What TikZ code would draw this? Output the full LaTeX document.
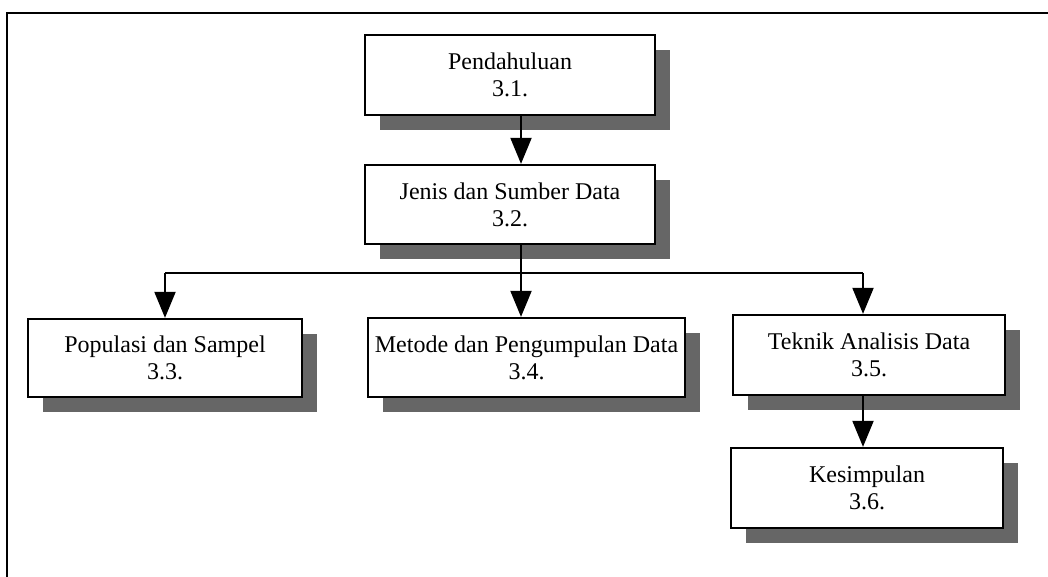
\documentclass[tikz,border=0pt]{standalone}
\usepackage{fontspec}
\setmainfont{Liberation Serif}
\usetikzlibrary{arrows.meta,shadows}
\tikzset{
  box/.style={draw, line width=2.3pt, fill=white, inner sep=0pt, align=center,
    font=\fontsize{24}{27}\selectfont,
    drop shadow={shadow xshift=15pt, shadow yshift=-15pt, fill=black!60, opacity=1}},
  conn/.style={line width=2pt},
  arr/.style={conn, -{Triangle[width=21pt,length=26pt]}}
}
\begin{document}
\begin{tikzpicture}[x=1pt,y=-1pt]
\useasboundingbox (0,0) rectangle (1048,576);
\clip (0,0) rectangle (1048,576);
\fill[white] (0,0) rectangle (1048,576);
\draw[line width=2.5pt] (7,13) rectangle (1070,600);

\node[box, minimum width=290pt, minimum height=80pt] (p1) at (510,75) {Pendahuluan\\3.1.};
\node[box, minimum width=290pt, minimum height=79pt] (p2) at (510,204.5) {Jenis dan Sumber Data\\3.2.};
\node[box, minimum width=274pt, minimum height=78pt] (p3) at (165,358) {Populasi dan Sampel\\3.3.};
\node[box, minimum width=317pt, minimum height=79pt] (p4) at (526.5,357.5) {Metode dan Pengumpulan Data\\3.4.};
\node[box, minimum width=272pt, minimum height=80pt] (p5) at (869,355) {Teknik Analisis Data\\3.5.};
\node[box, minimum width=272pt, minimum height=80pt] (p6) at (867,488) {Kesimpulan\\3.6.};

\coordinate (t) at (521,273);
\coordinate (l) at (165,273);
\coordinate (r) at (863,273);

\draw[arr] (p1.south -| t) -- (p2.north -| t);
\draw[conn] (p2.south -| t) -- (t);
\draw[conn] (l) -- (r);
\draw[arr] (t) -- (p4.north -| t);
\draw[arr] (l) -- (p3.north -| l);
\draw[arr] (r) -- (p5.north -| r);
\draw[arr] (p5.south -| r) -- (p6.north -| r);
\end{tikzpicture}
\end{document}
